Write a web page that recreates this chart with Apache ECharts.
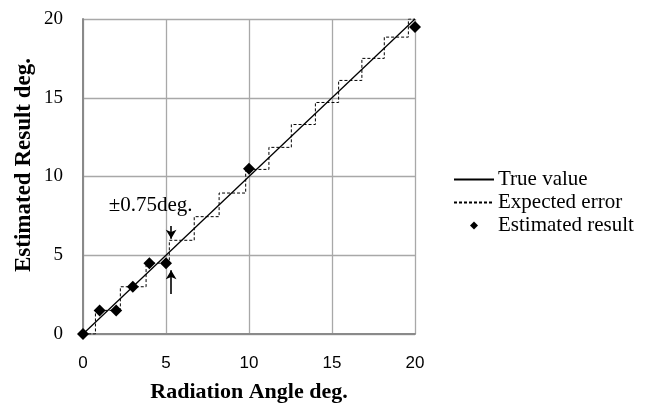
<!DOCTYPE html>
<html>
<head>
<meta charset="utf-8">
<title>Radiation Angle</title>
<script src="https://cdn.jsdelivr.net/npm/echarts@6/dist/echarts.min.js"></script>
<style>
    html, body { margin: 0; padding: 0; background: #fff; }
    #main { width: 664px; height: 407px; }
</style>
</head>
<body>
<div id="main"></div>
<script>
// true value line end points
var trueX = [0, 20];
var trueY = [0, 20];

// expected error staircase: x where the step rises, and the level of each step
var stepEdges = [0.75, 2.25, 3.8, 5.2, 6.7, 8.2, 9.8, 11.2, 12.55, 14.0, 15.4, 16.8, 18.15, 19.6];
var stepLevels = [0, 1.5, 3.0, 4.5, 5.95, 7.45, 8.95, 10.45, 11.85, 13.3, 14.7, 16.1, 17.5, 18.85, 20];

// estimated results
var estX = [0, 1, 2, 3, 4, 5, 10, 20];
var estY = [0, 1.5, 1.5, 3, 4.5, 4.5, 10.5, 19.5];

var axisTicks = [0, 5, 10, 15, 20];

// annotation: arrows at the 5 deg step and its text
var arrowX = 5.31;
var downArrow = [6.86, 6.05];
var upArrow = [2.54, 4.05];
var noteText = '\u00b10.75deg.';
var notePos = [4.07, 8.13];

var serif = '"Liberation Serif", "Times New Roman", serif';
var sans = '"Liberation Sans", Arial, sans-serif';

/**
 * turn step edges and levels into staircase points
 *
 * @return {Array} list of [x, y]
 */
function buildSteps() {
    var pts = [[0, stepLevels[0]]];
    for (var i = 0; i < stepEdges.length; ++i) {
        pts.push([stepEdges[i], stepLevels[i]]);
        pts.push([stepEdges[i], stepLevels[i + 1]]);
    }
    pts.push([axisTicks[axisTicks.length - 1], stepLevels[stepLevels.length - 1]]);
    return pts;
}

function zip(xs, ys) {
    var out = [];
    for (var i = 0; i < xs.length; ++i) {
        out.push([xs[i], ys[i]]);
    }
    return out;
}

var chart = echarts.init(document.getElementById('main'));

function valueAxis(labelFont, labelMargin) {
    return {
        type: 'value',
        min: axisTicks[0],
        max: axisTicks[axisTicks.length - 1],
        interval: 5,
        axisLine: { show: true, lineStyle: { color: '#8a8a8a', width: 2 } },
        axisTick: { show: false },
        axisLabel: {
            color: '#000',
            fontFamily: labelFont,
            fontSize: labelFont === sans ? 17 : 19,
            margin: labelMargin
        },
        splitLine: { show: true, lineStyle: { color: '#a8a8a8', width: 1.3 } }
    };
}

var xAxis = valueAxis(sans, 21);
xAxis.name = 'Radiation Angle deg.';
xAxis.nameLocation = 'middle';
xAxis.nameGap = 47;
xAxis.nameTextStyle = {
    color: '#000',
    fontFamily: serif,
    fontWeight: 'bold',
    fontSize: 22
};

var yAxis = valueAxis(serif, 20);

// line items in the legend get no marker dot
var hideDot = { color: 'transparent', borderWidth: 0 };
// small diamond centred in the 40x8 legend box (the stray points only widen the box)
var legendDiamond = 'path://M0,0L0,0M40,8L40,8M20,0L24,4L20,8L16,4Z';

chart.setOption({
    animation: false,
    backgroundColor: '#fff',
    grid: {
        left: 83,
        top: 19,
        width: 332,
        height: 315,
        outerBoundsMode: 'none'
    },
    xAxis: xAxis,
    yAxis: yAxis,
    legend: {
        orient: 'vertical',
        left: 453,
        top: 169,
        padding: 0,
        itemWidth: 40,
        itemHeight: 8,
        itemGap: 2,
        textStyle: {
            color: '#000',
            fontFamily: serif,
            fontSize: 21,
            padding: [0, 0, 0, -1]
        },
        data: [
            { name: 'True value', itemStyle: hideDot },
            { name: 'Expected error', itemStyle: hideDot },
            { name: 'Estimated result', icon: legendDiamond }
        ]
    },
    graphic: [{
        type: 'text',
        x: 24,
        y: 165,
        rotation: Math.PI / 2,
        style: {
            text: 'Estimated Result deg.',
            fill: '#000',
            font: 'bold 23px ' + serif,
            align: 'center',
            verticalAlign: 'middle'
        }
    }],
    series: [{
        name: 'True value',
        type: 'line',
        symbol: 'none',
        data: zip(trueX, trueY),
        lineStyle: { color: '#000', width: 1.3 },
        itemStyle: { color: '#000' },
        markLine: {
            silent: true,
            symbol: ['none', 'arrow'],
            symbolSize: [8, 9],
            label: { show: false },
            lineStyle: { color: '#000', width: 1.6, type: 'solid' },
            data: [
                [{ coord: [arrowX, downArrow[0]] }, { coord: [arrowX, downArrow[1]] }],
                [{ coord: [arrowX, upArrow[0]] }, { coord: [arrowX, upArrow[1]] }]
            ]
        },
        markPoint: {
            silent: true,
            symbol: 'circle',
            symbolSize: 1,
            itemStyle: { color: 'transparent' },
            label: {
                show: true,
                position: 'inside',
                formatter: noteText,
                color: '#000',
                fontFamily: serif,
                fontSize: 21
            },
            data: [{ coord: notePos }]
        }
    }, {
        name: 'Expected error',
        type: 'line',
        symbol: 'none',
        data: buildSteps(),
        lineStyle: { color: '#000', width: 1, type: [3, 2] },
        itemStyle: { color: '#000' }
    }, {
        name: 'Estimated result',
        type: 'scatter',
        symbol: 'diamond',
        symbolSize: 12,
        data: zip(estX, estY),
        itemStyle: { color: '#000', opacity: 1 }
    }]
});
</script>
</body>
</html>
